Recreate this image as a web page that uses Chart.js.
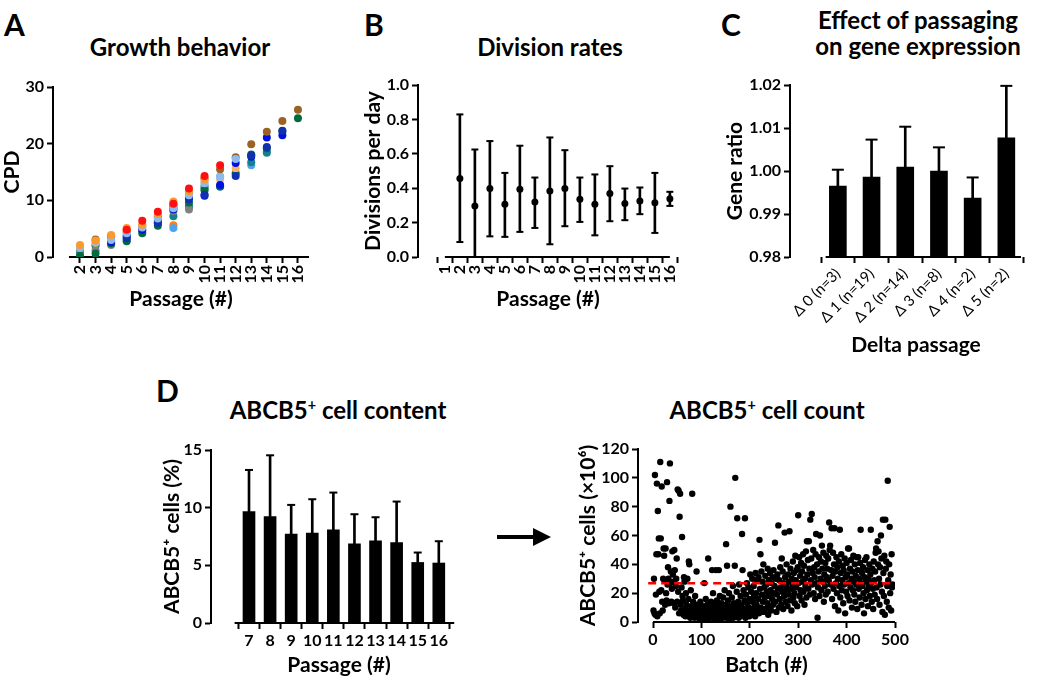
<!DOCTYPE html>
<html>
<head>
<meta charset="utf-8">
<script src="https://cdn.jsdelivr.net/npm/chart.js@4"></script>
<style>
  body { margin: 0; background: #fff; width: 1050px; height: 684px; position: relative; overflow: hidden; font-family: Lato, sans-serif; }
  canvas { position: absolute; }
  .txt { position: absolute; font-weight: bold; color: #000; white-space: nowrap; transform: translate(-50%, -50%); font-size: 24px; text-align: center; line-height: 26px; }
  .letter { position: absolute; font-weight: bold; font-size: 30px; color: #000; }
  sup { font-size: 60%; line-height: 0; }
</style>
</head>
<body>
<div class="letter" style="left:4px;top:6px">A</div>
<div class="letter" style="left:364px;top:6px">B</div>
<div class="letter" style="left:721px;top:6px">C</div>
<div class="letter" style="left:156px;top:372px">D</div>

<div class="txt" style="left:180px;top:47px">Growth behavior</div>
<div class="txt" style="left:550px;top:47px">Division rates</div>
<div class="txt" style="left:918px;top:33px">Effect of passaging<br>on gene expression</div>
<div class="txt" style="left:338px;top:410px">ABCB5<sup>+</sup> cell content</div>
<div class="txt" style="left:767px;top:410px">ABCB5<sup>+</sup> cell count</div>

<svg style="position:absolute;left:495px;top:525px" width="58" height="24">
  <line x1="2" y1="12" x2="40" y2="12" stroke="#000" stroke-width="4"/>
  <polygon points="38,3 56,12 38,21" fill="#000"/>
</svg>

<canvas id="chartA" width="329" height="314" style="left:0px;top:0px"></canvas>
<canvas id="chartB" width="332" height="314" style="left:361px;top:0px"></canvas>
<canvas id="chartC" width="327" height="360" style="left:723px;top:0px"></canvas>
<canvas id="chartD1" width="322" height="250" style="left:160px;top:430px"></canvas>
<canvas id="chartD2" width="339" height="251" style="left:576px;top:429px"></canvas>

<script>
// A: cumulative population doublings per passage, one array per cell batch (passages 2..16)
const passagesA = [2, 3, 4, 5, 6, 7, 8, 9, 10, 11, 12, 13, 14, 15, 16];
const cpdRed = [null, null, null, 4.8, 6.4, 8.0, 9.4, 12.1, 14.3, 16.2, null, null, null, null, null];
const cpdOrange = [2.1, 2.9, 3.9, 5.1, 5.7, 7.6, 9.8, 11.6, 13.7, null, null, null, null, null, null];
const cpdDarkOrange = [1.6, 2.2, 3.7, 4.9, 5.5, 7.3, 5.6, null, null, null, null, null, null, null, null];
const cpdLightOrange = [1.8, 2.5, 3.5, 4.6, 5.3, 7.2, 9.4, 11.2, 13.3, 13.7, 15.6, null, null, null, null];
const cpdBrown = [null, 3.1, 3.6, 4.4, null, 7.0, 9.2, 11.0, 13.9, 15.5, 17.6, 19.9, 22.1, 24.0, 26.0];
const cpdGreen = [0.2, 0.6, 2.4, 2.8, 4.2, 5.5, 8.8, 9.6, 11.8, 12.5, 14.8, 18.1, 19.2, 22.2, 24.5];
const cpdBlue = [null, null, 2.6, 3.6, 4.8, 6.4, 8.4, 10.5, 10.8, 12.7, 16.6, 17.7, 21.1, 21.5, null];
const cpdNavy = [null, null, null, 3.3, null, 6.0, null, 10.2, 11.0, null, 14.3, 17.9, 19.4, 22.3, null];
const cpdLightBlue = [1.6, 2.7, 3.0, 4.2, 5.2, 6.8, 8.6, 10.9, 13.0, 14.1, 17.3, null, null, null, null];
const cpdSkyBlue = [null, null, 2.8, null, null, null, 5.1, 8.9, 12.6, 14.2, null, 16.2, 18.6, null, null];
const cpdTeal = [0.9, 2.0, null, 3.0, null, 6.1, 7.2, 8.9, 12.1, 12.4, null, 16.7, 18.4, null, null];
const cpdGrey = [1.2, 1.2, 2.1, 3.9, 4.6, 5.9, 8.1, 8.4, 12.3, null, null, null, null, null, null];

// B: divisions per day, mean with lower / upper whisker
const passagesB = [2, 3, 4, 5, 6, 7, 8, 9, 10, 11, 12, 13, 14, 15, 16];
const passageTicksB = [1, 2, 3, 4, 5, 6, 7, 8, 9, 10, 11, 12, 13, 14, 15, 16];
const divMean = [0.456, 0.297, 0.398, 0.307, 0.394, 0.320, 0.384, 0.398, 0.336, 0.307, 0.369, 0.311, 0.326, 0.316, 0.338];
const divLow = [0.087, 0, 0.120, 0.117, 0.146, 0.169, 0.074, 0.179, 0.204, 0.126, 0.208, 0.214, 0.249, 0.140, 0.297];
const divHigh = [0.829, 0.625, 0.674, 0.489, 0.647, 0.462, 0.695, 0.621, 0.462, 0.480, 0.528, 0.398, 0.404, 0.489, 0.379];

// C: gene ratio by delta passage
const geneLabels = ["\u0394 0 (n=3)", "\u0394 1 (n=19)", "\u0394 2 (n=14)", "\u0394 3 (n=8)", "\u0394 4 (n=2)", "\u0394 5 (n=2)"];
const geneRatio = [0.9965, 0.9986, 1.0009, 1.0000, 0.9937, 1.0077];
const geneErrTop = [1.0003, 1.0073, 1.0103, 1.0055, 0.9985, 1.0198];

// D left: ABCB5+ cell content (%)
const passagesD = [7, 8, 9, 10, 11, 12, 13, 14, 15, 16];
const abcbPct = [9.66, 9.23, 7.70, 7.79, 8.08, 6.86, 7.12, 6.98, 5.25, 5.20];
const abcbPctErrTop = [13.27, 14.54, 10.24, 10.73, 11.31, 9.43, 9.17, 10.53, 6.11, 7.09];

// D right: ABCB5+ cells (x10^6) per batch, batches 1..495 in order
const cellCounts = [
  8, 30, 6, 102, 5, 19, 47, 96, 4, 77,
  47, 58, 21, 6, 111, 58, 22, 94, 14, 8,
  30, 51, 46, 29, 12, 51, 20, 15, 97, 26,
  38, 30, 13, 84, 110, 27, 35, 14, 23, 49,
  33, 28, 13, 50, 36, 10, 25, 30, 44, 14,
  92, 21, 91, 6, 73, 89, 12, 8, 24, 59,
  18, 15, 5, 31, 28, 9, 4, 20, 12, 7,
  30, 5, 16, 42, 40, 8, 3, 22, 11, 6,
  89, 4, 14, 10, 6, 3, 18, 8, 5, 35,
  12, 4, 7, 3, 9, 5, 2, 14, 6, 4,
  8, 3, 11, 5, 2, 27, 7, 4, 16, 9,
  3, 12, 6, 44, 2, 8, 5, 10, 4, 14,
  7, 36, 3, 20, 9, 5, 12, 2, 8, 36,
  4, 15, 6, 3, 11, 36, 7, 18, 2, 9,
  13, 5, 8, 3, 17, 10, 4, 22, 6, 12,
  54, 3, 39, 8, 15, 5, 20, 2, 11, 80,
  7, 4, 17, 9, 25, 3, 13, 6, 39, 100,
  10, 5, 21, 72, 8, 14, 3, 26, 11, 4,
  18, 7, 12, 61, 36, 5, 22, 9, 15, 72,
  3, 19, 8, 27, 13, 6, 24, 10, 4, 16,
  33, 9, 21, 5, 30, 14, 7, 25, 18, 11,
  4, 34, 20, 12, 29, 8, 16, 31, 6, 57,
  23, 47, 10, 35, 19, 28, 14, 40, 7, 24,
  17, 32, 9, 26, 21, 13, 37, 5, 29, 18,
  11, 34, 22, 8, 27, 16, 31, 12, 36, 20,
  25, 55, 14, 30, 7, 19, 33, 23, 67, 10,
  29, 16, 38, 24, 12, 44, 21, 35, 9, 27,
  18, 62, 31, 14, 25, 40, 22, 11, 33, 19,
  28, 63, 15, 37, 23, 8, 30, 26, 42, 17,
  34, 20, 13, 46, 29, 24, 36, 11, 38, 74,
  27, 45, 18, 32, 22, 41, 15, 35, 28, 47,
  21, 39, 12, 30, 25, 49, 17, 56, 33, 43,
  23, 56, 37, 19, 71, 29, 44, 75, 26, 34,
  50, 20, 38, 31, 16, 47, 61, 27, 40, 3,
  24, 35, 45, 18, 60, 30, 42, 22, 53, 37,
  28, 48, 14, 33, 25, 41, 19, 46, 31, 37,
  21, 44, 29, 69, 50, 53, 26, 36, 65, 16,
  32, 48, 23, 40, 65, 11, 35, 27, 45, 20,
  38, 30, 8, 42, 25, 64, 17, 34, 47, 22,
  29, 39, 13, 36, 26, 44, 6, 31, 21, 41,
  33, 18, 51, 27, 51, 15, 37, 24, 43, 30,
  10, 35, 22, 46, 28, 19, 40, 14, 32, 26,
  45, 9, 36, 45, 23, 30, 17, 41, 64, 27,
  12, 34, 25, 38, 20, 6, 31, 43, 16, 28,
  45, 22, 36, 11, 30, 25, 40, 18, 33, 64,
  27, 14, 37, 23, 9, 42, 29, 19, 35, 48,
  51, 24, 16, 56, 40, 49, 30, 12, 38, 26,
  60, 44, 21, 7, 71, 34, 18, 46, 5, 71,
  37, 42, 14, 25, 98, 29, 10, 40, 66, 20,
  33, 8, 47, 24, 26
];
const countMean = 26.8;

Chart.defaults.color = "#000";
Chart.defaults.font.family = "Lato, sans-serif";
Chart.defaults.font.weight = "bold";
Chart.defaults.font.size = 16;
Chart.defaults.animation = false;
Chart.defaults.plugins.legend.display = false;
Chart.defaults.plugins.tooltip.enabled = false;

// x axis line that starts a bit right of the y axis (Prism style)
Chart.register({
    id: "xAxisLine",
    beforeDatasetsDraw(chart, args, opts) {
        if (opts.from === undefined) return;
        const ctx = chart.ctx, xs = chart.scales.x, y = chart.chartArea.bottom;
        ctx.save();
        ctx.strokeStyle = "#000";
        ctx.lineWidth = 2;
        ctx.beginPath();
        ctx.moveTo(xs.getPixelForValue(opts.from), y);
        ctx.lineTo(xs.getPixelForValue(opts.to), y);
        ctx.stroke();
        ctx.restore();
    }
});

const tickGrid = { display: true, drawOnChartArea: false, drawTicks: true, tickLength: 6, tickWidth: 2, tickColor: "#000" };

function yScale(min, max, step, title, width, fmt) {
    return {
        min: min, max: max,
        ticks: { stepSize: step, padding: 3, callback: fmt || (v => v) },
        grid: tickGrid,
        border: { display: true, color: "#000", width: 2 },
        title: { display: true, text: title, font: { size: 21 }, padding: 0 },
        afterFit: s => { s.width = width; }
    };
}

function xScale(min, max, tickValues, title, height, rotation, fmt, tickFont) {
    return {
        type: "linear", min: min, max: max,
        afterBuildTicks: s => { s.ticks = tickValues.map(v => ({ value: v })); },
        ticks: { autoSkip: false, minRotation: rotation, maxRotation: rotation, padding: 2,
                 callback: fmt || (v => v), font: tickFont },
        grid: tickGrid,
        border: { display: false },
        title: { display: true, text: title, font: { size: 21 }, padding: { top: 0, bottom: 2 } },
        afterFit: s => { s.height = height; }
    };
}

function points(xs, ys) {
    return xs.map((x, i) => ({ x: x, y: ys[i] })).filter(p => p.y !== null);
}

function dotSeries(values, color) {
    return { type: "scatter", data: points(passagesA, values), backgroundColor: color, borderColor: color,
             pointRadius: 4, borderWidth: 0 };
}

function capSeries(xs, ys, radius) {
    return { type: "scatter", data: points(xs, ys), pointStyle: "line", pointRadius: radius,
             borderColor: "#000", borderWidth: 2, clip: false };
}

function whiskers(xs, lows, highs) {
    return { type: "bar", data: xs.map((x, i) => ({ x: x, y: [lows[i], highs[i]] })),
             backgroundColor: "#000", barThickness: 2, grouped: false, clip: false };
}

new Chart("chartA", {
    type: "scatter",
    data: {
        datasets: [
            dotSeries(cpdRed, "#ff1010"),
            dotSeries(cpdOrange, "#fb9a2c"),
            dotSeries(cpdLightBlue, "#8dbbf0"),
            dotSeries(cpdBrown, "#9a6325"),
            dotSeries(cpdNavy, "#1030b0"),
            dotSeries(cpdBlue, "#0010e0"),
            dotSeries(cpdLightOrange, "#f5b36e"),
            dotSeries(cpdGreen, "#006b3c"),
            dotSeries(cpdGrey, "#808080"),
            dotSeries(cpdTeal, "#17808f"),
            dotSeries(cpdSkyBlue, "#4fa3ea"),
            dotSeries(cpdDarkOrange, "#ff7f10")
        ]
    },
    options: {
        responsive: false,
        layout: { padding: { top: 87, right: 20, left: 0, bottom: 0 } },
        plugins: { xAxisLine: { from: 1.29, to: 16.71 } },
        scales: {
            x: xScale(0.266, 16.71, passagesA, "Passage (#)", 57, 90),
            y: yScale(0, 30, 10, "CPD", 53)
        }
    }
});

new Chart("chartB", {
    type: "bar",
    data: {
        datasets: [
            whiskers(passagesB, divLow, divHigh),
            capSeries(passagesB, divLow, 3.5),
            capSeries(passagesB, divHigh, 3.5),
            { type: "scatter", data: points(passagesB, divMean), backgroundColor: "#000", pointRadius: 3.5, borderWidth: 0, clip: false }
        ]
    },
    options: {
        responsive: false,
        layout: { padding: { top: 85, right: 15, left: 0, bottom: 0 } },
        plugins: { xAxisLine: { from: 1, to: 16 } },
        scales: {
            x: xScale(-0.25, 16, passageTicksB, "Passage (#)", 57, 90),
            y: yScale(0, 1, 0.2, "Divisions per day", 57, v => v.toFixed(1))
        }
    }
});

const geneIdx = geneLabels.map((l, i) => i);
new Chart("chartC", {
    type: "bar",
    data: {
        datasets: [
            { type: "bar", data: geneIdx.map(i => ({ x: i, y: [0.98, geneRatio[i]] })), backgroundColor: "#000",
              barThickness: 17, grouped: false },
            whiskers(geneIdx, geneRatio, geneErrTop),
            capSeries(geneIdx, geneErrTop, 6)
        ]
    },
    options: {
        responsive: false,
        layout: { padding: { top: 85, right: 2, left: 0, bottom: 0 } },
        plugins: { xAxisLine: { from: -0.362, to: 5.435 } },
        scales: {
            x: xScale(-0.797, 5.435, geneIdx, "Delta passage", 103, 45, v => geneLabels[v],
                      { size: 15, weight: "normal" }),
            y: yScale(0.98, 1.02, 0.01, "Gene ratio", 67, v => v.toFixed(2))
        }
    }
});

new Chart("chartD1", {
    type: "bar",
    data: {
        datasets: [
            { type: "bar", data: points(passagesD, abcbPct), backgroundColor: "#000", barThickness: 12, grouped: false },
            whiskers(passagesD, abcbPct, abcbPctErrTop),
            capSeries(passagesD, abcbPctErrTop, 4)
        ]
    },
    options: {
        responsive: false,
        layout: { padding: { top: 20, right: 15, left: 0, bottom: 0 } },
        plugins: { xAxisLine: { from: 6.317, to: 16.73 } },
        scales: {
            x: xScale(5.805, 16.73, passagesD, "Passage (#)", 57, 0),
            y: yScale(0, 15, 5, "ABCB5\u207A cells (%)", 51)
        }
    }
});

const batchTicks = [0, 100, 200, 300, 400, 500];
new Chart("chartD2", {
    type: "scatter",
    data: {
        datasets: [
            { data: cellCounts.map((c, i) => ({ x: i + 1, y: c })), backgroundColor: "#000", pointRadius: 3.2,
              borderWidth: 0, order: 2 },
            { type: "line", data: [{ x: -10, y: countMean }, { x: 500, y: countMean }], borderColor: "#ff0000",
              borderWidth: 2.5, borderDash: [8, 5], pointRadius: 0, clip: false, order: 1 }
        ]
    },
    options: {
        responsive: false,
        layout: { padding: { top: 20, right: 20, left: 0, bottom: 0 } },
        plugins: { xAxisLine: { from: 0, to: 500 } },
        scales: {
            x: xScale(-31, 500, batchTicks, "Batch (#)", 58, 0),
            y: yScale(0, 120, 20, "ABCB5\u207A cells (\u00D710\u2076)", 62)
        }
    }
});
</script>
</body>
</html>
